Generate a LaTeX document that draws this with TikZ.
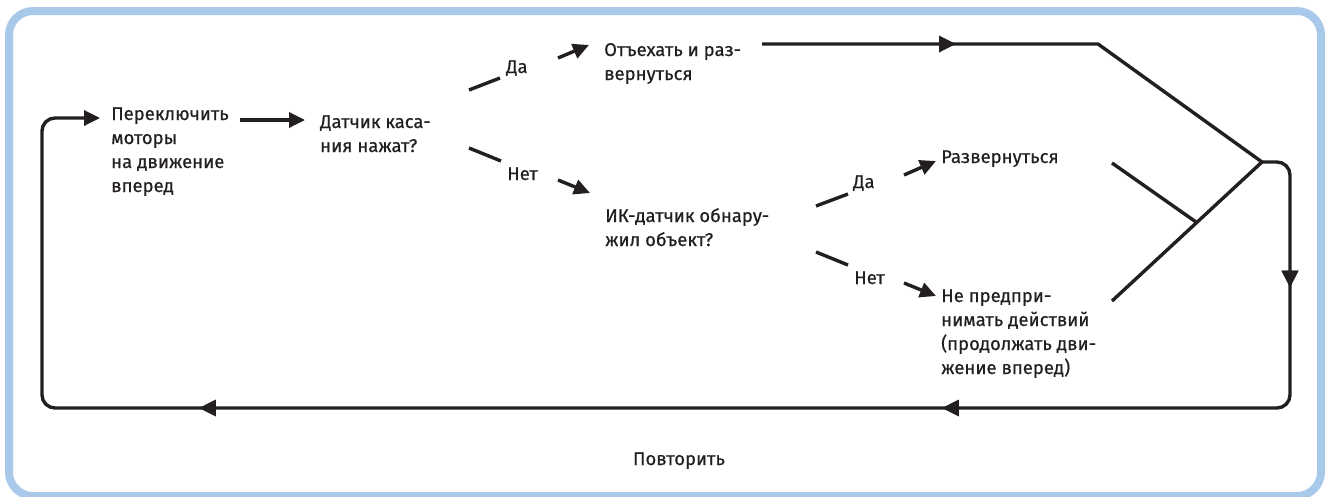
\documentclass[tikz,border=0pt]{standalone}
\usepackage{fontspec}
\setmainfont{Fira Sans}[FakeBold=0.6]
\usetikzlibrary{arrows.meta,decorations.markings}
\definecolor{ink}{HTML}{231F20}
\definecolor{framecol}{HTML}{A9C9EA}
\newcommand\mlines[1]{\begin{tabular}[t]{@{}l@{}}#1\end{tabular}}
\begin{document}
\begin{tikzpicture}[x=1pt,y=-1pt,
  ln/.style={draw=ink, line width=3.4pt},
  tip/.style={-{Triangle[length=16pt,width=15pt]}},
  txt/.style={anchor=base west, inner sep=0pt, text=ink, font=\fontsize{18.5}{24}\selectfont},
  midtip/.style={postaction={decorate}, decoration={markings, mark=at position #1 with {\arrow{Triangle[length=17pt,width=16pt]}}}}]
\useasboundingbox (0,0) rectangle (1325,496);
\begin{scope}
\clip (0,0) rectangle (1325,496);
\draw[draw=framecol, line width=8pt, rounded corners=24pt] (9,11) rectangle (1321,496);
\end{scope}

% text nodes
\node[txt] (start) at (111,120) {\mlines{Переключить\\моторы\\на движение\\вперед}};
\node[txt] (touch) at (320,128) {\mlines{Датчик каса-\\ния нажат?}};
\node[txt] (back) at (604,56) {\mlines{Отъехать и раз-\\вернуться}};
\node[txt] (ir) at (605,222) {\mlines{ИК-датчик обнару-\\жил объект?}};
\node[txt] (turn) at (941,163) {Развернуться};
\node[txt] (none) at (941,302) {\mlines{Не предпри-\\нимать действий\\(продолжать дви-\\жение вперед)}};
\node[txt] (yes1) at (506,73) {Да};
\node[txt] (no1) at (507,180) {Нет};
\node[txt] (yes2) at (853,188) {Да};
\node[txt] (no2) at (854,284) {Нет};
\node[txt, anchor=base] (rep) at (679,465) {Повторить};

% coordinates
\coordinate (s1) at (240,120); \coordinate (s2) at (305,120);
\coordinate (y1a) at (469,90); \coordinate (y1b) at (500,78);
\coordinate (y1c) at (558,58); \coordinate (y1d) at (589,45);
\coordinate (n1a) at (469,148); \coordinate (n1b) at (501,161);
\coordinate (n1c) at (558,180); \coordinate (n1d) at (590,193);
\coordinate (y2a) at (816,206); \coordinate (y2b) at (848,194);
\coordinate (y2c) at (904,175); \coordinate (y2d) at (936,161);
\coordinate (n2a) at (816,252); \coordinate (n2b) at (848,265);
\coordinate (n2c) at (904,283); \coordinate (n2d) at (936,296);
\coordinate (b1) at (762,44); \coordinate (b2) at (1098,44);
\coordinate (j) at (1262,162);
\coordinate (m) at (1196,222);
\coordinate (t1) at (1112,163);
\coordinate (u1) at (1112,301);
\coordinate (rc) at (1290,162);
\coordinate (rb) at (1290,408);
\coordinate (lb) at (42,408);
\coordinate (lt) at (42,118);
\coordinate (e) at (100,118);

% connectors
\draw[ln, tip] (s1) -- (s2);
\draw[ln] (y1a) -- (y1b);
\draw[ln, tip] (y1c) -- (y1d);
\draw[ln] (n1a) -- (n1b);
\draw[ln, tip] (n1c) -- (n1d);
\draw[ln] (y2a) -- (y2b);
\draw[ln, tip] (y2c) -- (y2d);
\draw[ln] (n2a) -- (n2b);
\draw[ln, tip] (n2c) -- (n2d);
\draw[ln, midtip=194pt] (b1) -- (b2) -- (j);
\draw[ln] (t1) -- (m);
\draw[ln] (u1) -- (j);
\draw[ln, tip, rounded corners=13pt, midtip=148pt,
  postaction={decorate, decoration={markings,
    mark=at position 611pt with {\arrow{Triangle[length=17pt,width=16pt]}},
    mark=at position 1354pt with {\arrow{Triangle[length=17pt,width=16pt]}}}}]
  (j) -- (rc) -- (rb) -- (lb) -- (lt) -- (e);
\end{tikzpicture}
\end{document}
